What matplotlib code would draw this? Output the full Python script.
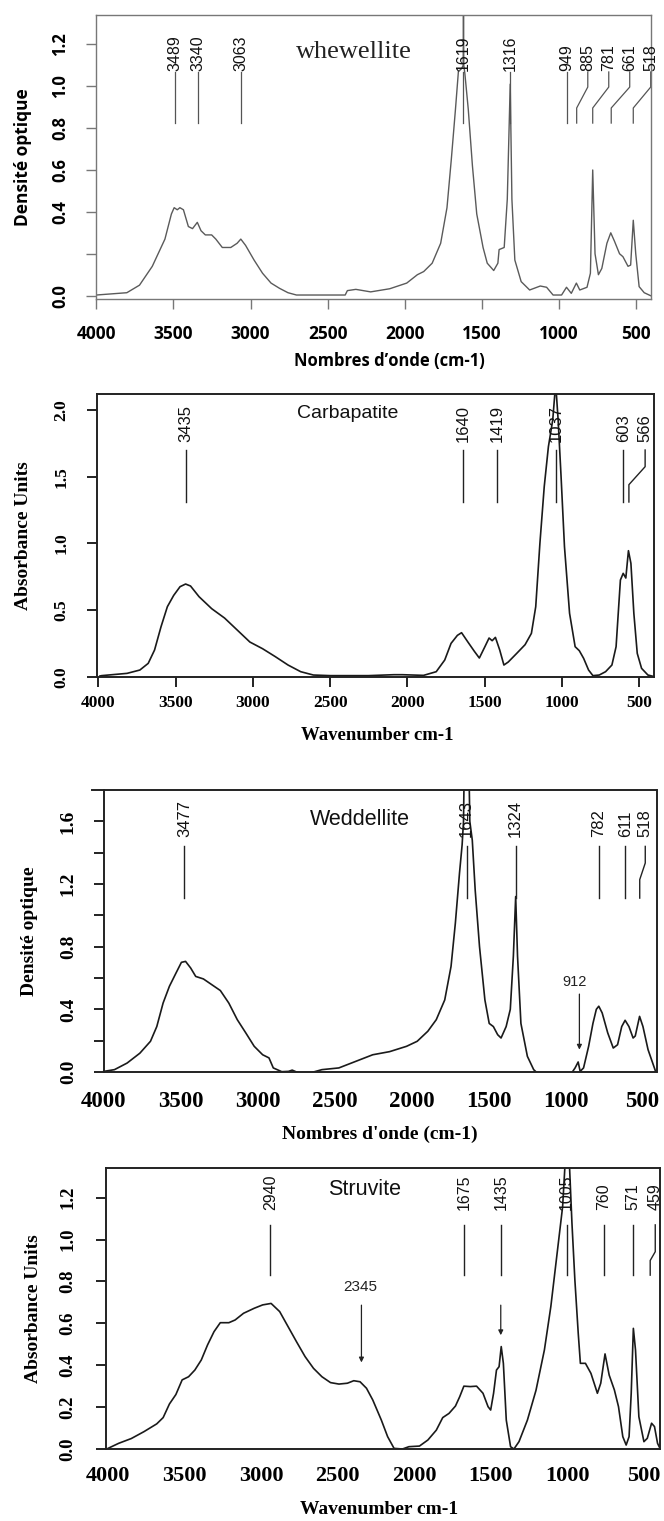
import matplotlib
matplotlib.use("Agg")
import matplotlib.pyplot as plt

# ---------------- data ----------------
xticks = [4000, 3500, 3000, 2500, 2000, 1500, 1000, 500]

whe_wn = [4000, 3802, 3720, 3637, 3555, 3513, 3495, 3475, 3458, 3435, 3403, 3376, 3345,
          3321, 3293, 3252, 3225, 3183, 3128, 3087, 3063, 3032, 2977, 2922, 2867, 2812,
          2757, 2702, 2386, 2372, 2317, 2221, 2097, 1987, 1918, 1877, 1822, 1767, 1726,
          1698, 1671, 1652, 1630, 1621, 1619, 1617, 1610, 1588, 1561, 1533, 1492, 1465,
          1423, 1396, 1388, 1355, 1335, 1316, 1305, 1286, 1245, 1190, 1121, 1080, 1038,
          983, 951, 920, 887, 865, 818, 796, 781, 766, 744, 722, 689, 664, 640, 607, 585,
          552, 535, 518, 502, 480, 447, 406]
whe_ab = [0.003, 0.014, 0.05, 0.14, 0.27, 0.39, 0.42, 0.41, 0.42, 0.41, 0.33, 0.32, 0.35,
          0.31, 0.29, 0.29, 0.27, 0.23, 0.23, 0.25, 0.27, 0.24, 0.17, 0.107, 0.06, 0.035,
          0.014, 0.003, 0.003, 0.024, 0.03, 0.018, 0.033, 0.06, 0.10, 0.115, 0.155, 0.25,
          0.42, 0.65, 0.89, 1.07, 1.085, 1.10, 1.40, 1.10, 1.06, 0.89, 0.62, 0.39, 0.23,
          0.155, 0.12, 0.155, 0.22, 0.23, 0.46, 1.01, 0.46, 0.17, 0.067, 0.027, 0.046,
          0.04, 0.003, 0.003, 0.04, 0.011, 0.06, 0.027, 0.04, 0.107, 0.60, 0.20, 0.10,
          0.13, 0.25, 0.30, 0.26, 0.20, 0.186, 0.14, 0.146, 0.36, 0.20, 0.043, 0.014, 0.0]
whe_peaks = [3489, 3340, 3063, 1619, 1316, 949, 885, 781, 661, 518]

carb_wn = [3990, 3978, 3814, 3731, 3677, 3636, 3594, 3553, 3512, 3471, 3435, 3403, 3348,
           3266, 3183, 3101, 3019, 2937, 2854, 2772, 2690, 2608, 2498, 2252, 2087, 2032,
           1895, 1813, 1758, 1717, 1676, 1649, 1608, 1566, 1534, 1498, 1471, 1451, 1430,
           1402, 1375, 1347, 1292, 1238, 1197, 1169, 1142, 1114, 1087, 1059, 1040, 1024,
           1005, 983, 950, 914, 887, 859, 827, 799, 758, 717, 676, 649, 621, 603, 586,
           569, 553, 534, 512, 484, 443, 410]
carb_ab = [0.005, 0.008, 0.025, 0.05, 0.10, 0.20, 0.375, 0.525, 0.61, 0.675, 0.695, 0.68,
           0.60, 0.51, 0.44, 0.35, 0.26, 0.21, 0.15, 0.0875, 0.0375, 0.0125, 0.008, 0.008,
           0.015, 0.015, 0.01, 0.0375, 0.125, 0.25, 0.31, 0.33, 0.26, 0.19, 0.14, 0.225,
           0.29, 0.27, 0.295, 0.20, 0.0875, 0.11, 0.175, 0.24, 0.325, 0.525, 1.0, 1.425,
           1.725, 1.925, 2.2, 1.925, 1.5, 0.975, 0.475, 0.225, 0.195, 0.1375, 0.05, 0.008,
           0.0125, 0.0375, 0.0875, 0.225, 0.725, 0.775, 0.74, 0.945, 0.85, 0.475, 0.175,
           0.0625, 0.0125, 0.003]
carb_peaks = [3435, 1640, 1419, 1037, 603, 566]

wed_wn = [4000, 3931, 3849, 3766, 3697, 3656, 3615, 3574, 3532, 3496, 3469, 3436, 3403,
          3353, 3298, 3243, 3188, 3133, 3078, 3023, 2968, 2927, 2899, 2844, 2800, 2776,
          2748, 2693, 2638, 2583, 2473, 2363, 2253, 2143, 2033, 1964, 1895, 1840, 1785,
          1744, 1716, 1689, 1672, 1663, 1659, 1627, 1622, 1606, 1587, 1559, 1524, 1496,
          1469, 1441, 1419, 1386, 1359, 1339, 1324, 1312, 1290, 1248, 1207, 1180, 960,
          938, 918, 905, 883, 850, 822, 800, 784, 762, 726, 690, 662, 635, 613, 588, 561,
          547, 519, 497, 464, 415]
wed_ab = [0.004, 0.015, 0.057, 0.12, 0.196, 0.29, 0.44, 0.547, 0.63, 0.70, 0.706, 0.664,
          0.61, 0.594, 0.557, 0.52, 0.44, 0.334, 0.25, 0.164, 0.11, 0.09, 0.026, 0.002,
          0.004, 0.012, 0.0, -0.017, 0.0, 0.015, 0.026, 0.068, 0.11, 0.13, 0.164, 0.196,
          0.26, 0.334, 0.46, 0.674, 0.95, 1.27, 1.45, 1.60, 1.90, 1.90, 1.60, 1.48, 1.16,
          0.80, 0.46, 0.31, 0.29, 0.238, 0.217, 0.29, 0.40, 0.74, 1.12, 0.74, 0.31, 0.10,
          0.015, -0.01, -0.006, 0.026, 0.064, 0.004, 0.026, 0.164, 0.31, 0.40, 0.42, 0.377,
          0.25, 0.153, 0.174, 0.29, 0.33, 0.29, 0.217, 0.23, 0.355, 0.29, 0.143, 0.004]
wed_peaks = [3477, 1643, 1324, 782, 611, 518]

stru_wn = [4000, 3931, 3848, 3765, 3682, 3640, 3599, 3557, 3516, 3474, 3433, 3391, 3350,
           3308, 3267, 3211, 3170, 3115, 3045, 2990, 2935, 2879, 2824, 2769, 2713, 2658,
           2603, 2547, 2492, 2437, 2395, 2354, 2312, 2271, 2215, 2174, 2132, 2077, 2035,
           1966, 1911, 1856, 1814, 1773, 1731, 1703, 1676, 1634, 1593, 1551, 1518, 1501,
           1482, 1463, 1446, 1432, 1418, 1399, 1371, 1349, 1316, 1261, 1205, 1150, 1108,
           1067, 1031, 1012, 989, 970, 951, 929, 915, 882, 846, 818, 804, 782, 754, 727,
           693, 666, 638, 616, 597, 583, 569, 555, 533, 500, 478, 450, 431, 411, 395]
stru_ab = [0.003, 0.027, 0.05, 0.083, 0.12, 0.15, 0.215, 0.26, 0.33, 0.345, 0.377, 0.425,
           0.497, 0.56, 0.603, 0.603, 0.616, 0.648, 0.672, 0.688, 0.695, 0.656, 0.584,
           0.512, 0.441, 0.385, 0.345, 0.317, 0.31, 0.314, 0.326, 0.321, 0.29, 0.234,
           0.138, 0.059, 0.003, 0.0, 0.011, 0.014, 0.043, 0.09, 0.15, 0.17, 0.205, 0.25,
           0.30, 0.298, 0.30, 0.266, 0.202, 0.186, 0.266, 0.377, 0.393, 0.489, 0.409,
           0.138, 0.011, 0.0, 0.035, 0.138, 0.28, 0.473, 0.68, 0.934, 1.157, 1.40, 1.40,
           1.077, 0.807, 0.552, 0.409, 0.409, 0.361, 0.298, 0.266, 0.314, 0.454, 0.353,
           0.282, 0.202, 0.059, 0.019, 0.059, 0.266, 0.576, 0.473, 0.154, 0.035, 0.051,
           0.123, 0.107, 0.027, 0.003]
stru_peaks = [2940, 1675, 1435, 1005, 760, 571, 459]

# ---------------- layout helpers ----------------
W, H = 664, 1521
fig = plt.figure(figsize=(W / 100, H / 100), dpi=100)


def make_axes(L, R, T, B):
    return fig.add_axes([L / W, 1 - B / H, (R - L) / W, (B - T) / H])


def annotate_peaks(ax, peaks, text_y, ys, gap, fs, color, lw):
    y_top, y_k1, y_k2, y_bot = ys
    prev = None
    for p in sorted(peaks, reverse=True):
        x = p if prev is None else min(p, prev - gap)
        prev = x
        ax.text(x, text_y, str(p), rotation=90, ha="center", va="bottom",
                fontsize=fs, family="Liberation Sans", color="#111111", clip_on=False)
        if x == p:
            ax.plot([p, p], [y_top, y_bot], color=color, lw=lw, clip_on=False)
        else:
            ax.plot([x, x, p, p], [y_top, y_k1, y_k2, y_bot], color=color, lw=lw,
                    clip_on=False)


def style_axes(ax, frame_color, lw, tick_family, tick_weight, xfs, yfs, xpad, ypad):
    for s in ax.spines.values():
        s.set_color(frame_color)
        s.set_linewidth(lw)
    ax.set_xticks(xticks)
    ax.set_xticklabels([str(v) for v in xticks], family=tick_family,
                       fontweight=tick_weight, fontsize=xfs)
    ax.tick_params(axis="both", direction="out", length=7.5, width=lw,
                   color=frame_color)
    ax.tick_params(axis="x", pad=xpad)
    ax.tick_params(axis="y", pad=ypad)
    for t in ax.get_yticklabels():
        t.set_rotation(90)
        t.set_va("center")
        t.set_family(tick_family)
        t.set_fontweight(tick_weight)
        t.set_fontsize(yfs)


# ---------------- panel 1 : whewellite ----------------
ax1 = make_axes(96.3, 650.7, 15, 299)
ax1.plot(whe_wn, whe_ab, color="#5a5a5a", lw=1.0)
ax1.set_xlim(4000, 405)
ax1.set_ylim(-0.016, 1.34)
ax1.set_yticks([0, 0.2, 0.4, 0.6, 0.8, 1.0, 1.2])
ax1.set_yticklabels(["0.0", "", "0.4", "0.6", "0.8", "1.0", "1.2"])
style_axes(ax1, "#777777", 1.0, "Open Sans", "bold", 12.5, 12, 11, 12)
annotate_peaks(ax1, whe_peaks, 1.072, (1.068, 0.996, 0.896, 0.824), 136, 11.5,
               "#555555", 0.9)
ax1.text(2331, 1.165, "whewellite", family="Liberation Serif", fontsize=19,
         ha="center", va="center", color="#222222")
ax1.set_ylabel("Densité optique", family="Open Sans", fontweight="bold", fontsize=12.5)
ax1.yaxis.set_label_coords(-0.116, 0.5)
fig.text(389 / W, 1 - 361 / H, "Nombres d’onde (cm-1)", family="Open Sans",
         fontweight="bold", fontsize=12, ha="center", va="center")

# ---------------- panel 2 : carbapatite ----------------
ax2 = make_axes(96.6, 654.4, 394, 676.7)
ax2.plot(carb_wn, carb_ab, color="#1a1a1a", lw=1.2)
ax2.set_xlim(4011, 401)
ax2.set_ylim(0, 2.12)
ax2.set_yticks([0, 0.5, 1.0, 1.5, 2.0])
ax2.set_yticklabels(["0.0", "0.5", "1.0", "1.5", "2.0"])
style_axes(ax2, "#222222", 1.4, "Liberation Serif", "bold", 12.5, 12.5, 6, 12)
annotate_peaks(ax2, carb_peaks, 1.76, (1.70, 1.575, 1.44, 1.31), 142, 12,
               "#222222", 1.0)
ax2.text(2383, 1.975, "Carbapatite", family="Liberation Sans", fontsize=14,
         ha="center", va="center", color="#111111")
ax2.set_ylabel("Absorbance Units", family="Liberation Serif", fontweight="bold",
               fontsize=14)
ax2.yaxis.set_label_coords(-0.116, 0.5)
fig.text(377 / W, 1 - 736 / H, "Wavenumber cm-1", family="Liberation Serif",
         fontweight="bold", fontsize=13.5, ha="center", va="center")

# ---------------- panel 3 : weddellite ----------------
ax3 = make_axes(92.3, 656.5, 790, 1072)
ax3.plot(wed_wn, wed_ab, color="#1a1a1a", lw=1.2)
ax3.set_xlim(4075, 409)
ax3.set_ylim(0, 1.80)
ax3.spines["left"].set_position(("data", 4000))
ax3.spines["bottom"].set_bounds(4000, 409)
ax3.set_yticks([0, 0.2, 0.4, 0.6, 0.8, 1.0, 1.2, 1.4, 1.6])
ax3.set_yticklabels(["0.0", "", "0.4", "", "0.8", "", "1.2", "", "1.6"])
style_axes(ax3, "#222222", 1.4, "Liberation Serif", "bold", 16.5, 14, 14, 12)
ax3.tick_params(axis="x", length=0)
annotate_peaks(ax3, wed_peaks, 1.50, (1.44, 1.334, 1.228, 1.11), 129, 12,
               "#222222", 1.0)
ax3.text(2335, 1.61, "Weddellite", family="Liberation Sans", fontsize=15.5,
         ha="center", va="center", color="#111111")
ax3.annotate("", xy=(910, 0.125), xytext=(910, 0.515),
             arrowprops=dict(arrowstyle="-|>", color="#222222", lw=0.9,
                             mutation_scale=7))
ax3.text(940, 0.577, "912", family="Liberation Sans", fontsize=10.5,
         ha="center", va="center", color="#222222")
ax3.set_ylabel("Densité optique", family="Liberation Serif", fontweight="bold",
               fontsize=14)
ax3.yaxis.set_label_coords(-0.096, 0.5)
fig.text(380 / W, 1 - 1134 / H, "Nombres d'onde (cm-1)", family="Liberation Serif",
         fontweight="bold", fontsize=14, ha="center", va="center")

# ---------------- panel 4 : struvite ----------------
ax4 = make_axes(105.9, 660, 1167.7, 1449)
ax4.plot(stru_wn, stru_ab, color="#1a1a1a", lw=1.2)
ax4.set_xlim(4014, 395)
ax4.set_ylim(0, 1.343)
ax4.set_yticks([0, 0.2, 0.4, 0.6, 0.8, 1.0, 1.2])
ax4.set_yticklabels(["0.0", "0.2", "0.4", "0.6", "0.8", "1.0", "1.2"])
style_axes(ax4, "#222222", 1.4, "Liberation Serif", "bold", 16, 13.5, 12, 14)
ax4.tick_params(axis="x", length=0)
annotate_peaks(ax4, stru_peaks, 1.14, (1.07, 0.942, 0.90, 0.83), 145, 11.5,
               "#222222", 1.0)
ax4.text(2326, 1.24, "Struvite", family="Liberation Sans", fontsize=15.5,
         ha="center", va="center", color="#111111")
ax4.annotate("", xy=(2345, 0.40), xytext=(2345, 0.70),
             arrowprops=dict(arrowstyle="-|>", color="#222222", lw=0.9,
                             mutation_scale=7))
ax4.text(2354, 0.775, "2345", family="Liberation Sans", fontsize=11,
         ha="center", va="center", color="#222222")
ax4.annotate("", xy=(1435, 0.53), xytext=(1435, 0.70),
             arrowprops=dict(arrowstyle="-|>", color="#222222", lw=0.9,
                             mutation_scale=7))
ax4.set_ylabel("Absorbance Units", family="Liberation Serif", fontweight="bold",
               fontsize=14)
ax4.yaxis.set_label_coords(-0.115, 0.5)
fig.text(379 / W, 1 - 1510 / H, "Wavenumber cm-1", family="Liberation Serif",
         fontweight="bold", fontsize=14, ha="center", va="center")

fig.savefig("out.png", dpi=100, facecolor="white")
